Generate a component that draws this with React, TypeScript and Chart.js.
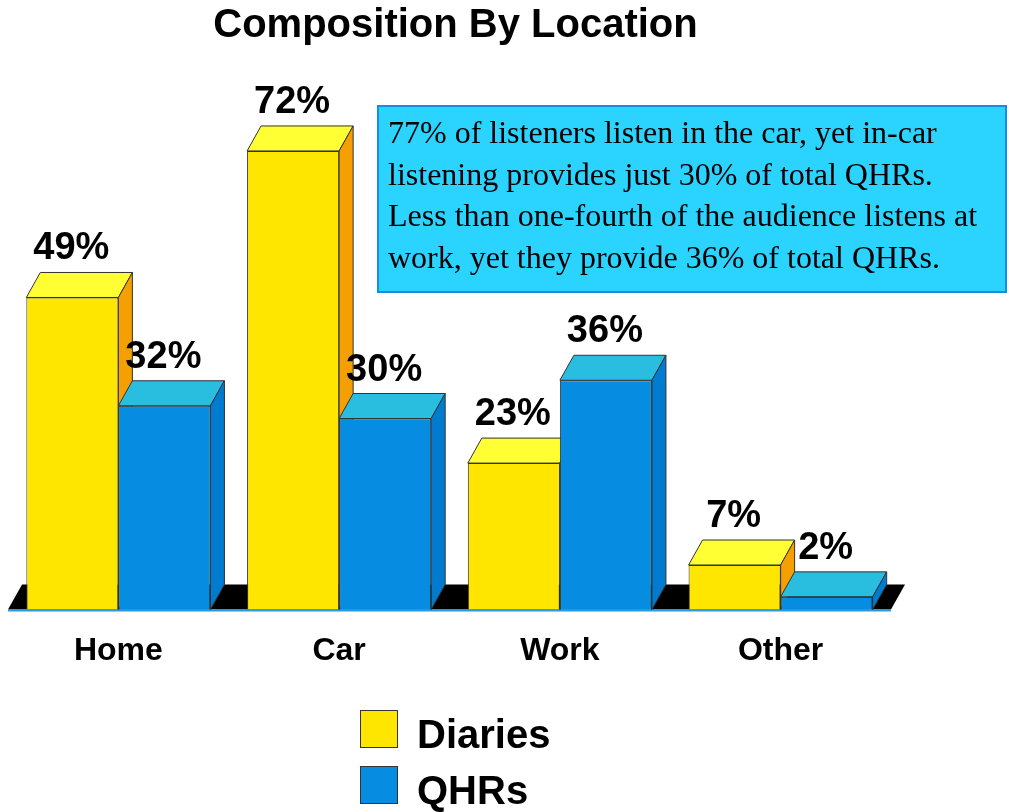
import React, { useEffect, useRef } from "react";
import { Chart, registerables } from "chart.js";

Chart.register(...registerables);

const categories = ["Home", "Car", "Work", "Other"];
const seriesNames = ["Diaries", "QHRs"];
const diaries = [49, 72, 23, 7];
const qhrs = [32, 30, 36, 2];
const chartTitle = "Composition By Location";
const noteLines = [
  "77% of listeners listen in the car, yet in-car",
  "listening provides just 30% of total QHRs.",
  "Less than one-fourth of the audience listens at",
  "work, yet they provide 36% of total QHRs.",
];

const FRONT = ["#FFE600", "#068CE0"];
const TOP = ["#FFFF33", "#29BDE0"];
const SIDE = ["#F5A000", "#007BD0"];
const DX = 14;
const DY = 25;
const SANS = "'Liberation Sans', Arial, sans-serif";
const SERIF = "'Liberation Serif', 'Times New Roman', serif";

function poly(ctx: CanvasRenderingContext2D, pts: number[][], fill: string, stroke = true) {
  ctx.beginPath();
  ctx.moveTo(pts[0][0], pts[0][1]);
  for (let i = 1; i < pts.length; i++) ctx.lineTo(pts[i][0], pts[i][1]);
  ctx.closePath();
  ctx.fillStyle = fill;
  ctx.fill();
  if (stroke) ctx.stroke();
}

const threeD = {
  id: "threeD",
  beforeDatasetsDraw(chart: any) {
    const ctx: CanvasRenderingContext2D = chart.ctx;
    const { left, right, bottom } = chart.chartArea;
    ctx.save();
    // floor
    poly(
      ctx,
      [
        [left, bottom],
        [right, bottom],
        [right + DX, bottom - DY],
        [left + DX, bottom - DY],
      ],
      "#000000",
      false
    );
    ctx.strokeStyle = "#2A9BE0";
    ctx.lineWidth = 2;
    ctx.beginPath();
    ctx.moveTo(left, bottom + 1);
    ctx.lineTo(right, bottom + 1);
    ctx.stroke();

    ctx.strokeStyle = "#333333";
    ctx.lineWidth = 1;
    ctx.lineJoin = "round";
    const metas = chart.data.datasets.map((_: any, i: number) => chart.getDatasetMeta(i));
    const n = chart.data.labels.length;
    for (let j = 0; j < n; j++) {
      for (let d = 0; d < metas.length; d++) {
        const bar = metas[d].data[j];
        const { x, y, base, width } = bar.getProps(["x", "y", "base", "width"], true);
        const l = x - width / 2;
        const r = x + width / 2;
        poly(ctx, [[l, y], [r, y], [r + DX, y - DY], [l + DX, y - DY]], TOP[d]);
        poly(ctx, [[r, y], [r + DX, y - DY], [r + DX, base - DY], [r, base]], SIDE[d]);
      }
    }
    ctx.restore();
  },
  afterDatasetsDraw(chart: any) {
    const ctx: CanvasRenderingContext2D = chart.ctx;
    ctx.save();
    ctx.font = `bold 38px ${SANS}`;
    ctx.fillStyle = "#000";
    ctx.textAlign = "center";
    ctx.textBaseline = "alphabetic";
    chart.data.datasets.forEach((ds: any, d: number) => {
      const meta = chart.getDatasetMeta(d);
      meta.data.forEach((bar: any, j: number) => {
        const { x, y } = bar.getProps(["x", "y"], true);
        ctx.fillText(`${ds.data[j]}%`, x - 1, y - DY - 13);
      });
    });
    ctx.restore();
  },
  afterDraw(chart: any) {
    const ctx: CanvasRenderingContext2D = chart.ctx;
    ctx.save();
    // title
    ctx.font = `bold 40px ${SANS}`;
    ctx.fillStyle = "#000";
    ctx.textAlign = "center";
    ctx.textBaseline = "alphabetic";
    ctx.fillText(chartTitle, 455.5, 37);

    // note box
    ctx.fillStyle = "#2BD3FF";
    ctx.fillRect(377, 105, 630, 188);
    ctx.strokeStyle = "#1A8CE0";
    ctx.lineWidth = 2;
    ctx.strokeRect(378, 106, 628, 186);
    ctx.fillStyle = "#000";
    ctx.textAlign = "left";
    ctx.font = `32px ${SERIF}`;
    noteLines.forEach((line, i) => {
      ctx.fillText(line, 388, 143 + i * 41.6);
    });

    // legend
    chart.data.datasets.forEach((ds: any, d: number) => {
      const top = 710 + d * 56;
      ctx.fillStyle = ds.backgroundColor;
      ctx.fillRect(360, top, 38, 38);
      ctx.strokeStyle = "#333";
      ctx.lineWidth = 1;
      ctx.strokeRect(360.5, top + 0.5, 37, 37);
      ctx.fillStyle = "#000";
      ctx.font = `bold 40px ${SANS}`;
      ctx.textBaseline = "alphabetic";
      ctx.fillText(ds.label, 417, top + 38);
    });
    ctx.restore();
  },
};

export default function App() {
  const ref = useRef<HTMLCanvasElement | null>(null);
  useEffect(() => {
    if (!ref.current) return;
    const chart = new Chart(ref.current, {
      type: "bar",
      data: {
        labels: categories,
        datasets: [
          {
            label: seriesNames[0],
            data: diaries,
            backgroundColor: FRONT[0],
            borderColor: "#333333",
            borderWidth: 1,
          },
          {
            label: seriesNames[1],
            data: qhrs,
            backgroundColor: FRONT[1],
            borderColor: "#333333",
            borderWidth: 1,
          },
        ],
      },
      options: {
        animation: false,
        responsive: true,
        maintainAspectRatio: false,
        datasets: { bar: { categoryPercentage: 0.834, barPercentage: 1 } },
        layout: { padding: { top: 100, left: 8, right: 118, bottom: 120 } },
        plugins: {
          legend: { display: false },
          title: { display: false },
          tooltip: { enabled: false },
        },
        scales: {
          x: {
            grid: { display: false, drawTicks: false },
            border: { display: false },
            ticks: {
              color: "#000",
              padding: 22,
              font: { family: SANS, size: 32, weight: "bold" },
            },
          },
          y: { display: false, min: 0, max: 80 },
        },
      },
      plugins: [threeD],
    });
    return () => chart.destroy();
  }, []);
  return (
    <div style={{ position: "absolute", left: 0, top: 0, width: 1009, height: 812, background: "#fff" }}>
      <canvas ref={ref} />
    </div>
  );
}
